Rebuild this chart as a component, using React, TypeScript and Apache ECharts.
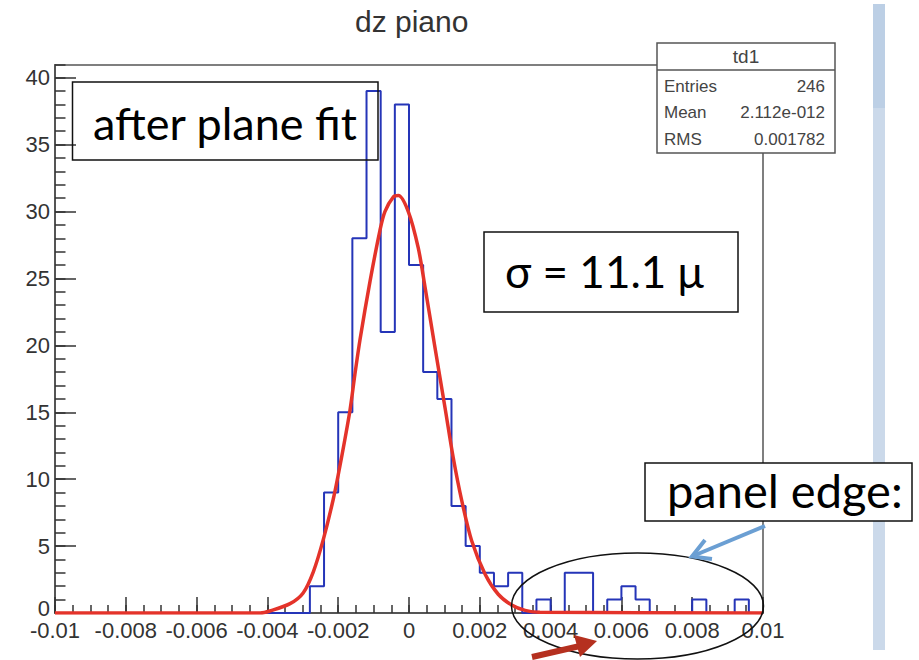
import React, { useEffect, useRef } from "react";
import * as echarts from "echarts";

// ---- data ----
const X_MIN = -0.01;
const X_MAX = 0.01;
const BIN_WIDTH = 0.0004; // 50 bins
const BIN_COUNTS = [
  0, 0, 0, 0, 0, 0, 0, 0, 0, 0,
  0, 0, 0, 0, 0, 0, 0, 0, 2, 9,
  15, 28, 39, 21, 38, 26, 18, 16, 8, 5,
  3, 2, 3, 0, 1, 0, 3, 3, 0, 1,
  2, 1, 0, 0, 0, 1, 0, 0, 1, 0,
];
// red fit curve
const FIT_X = [
  -0.01, -0.0042, -0.00393, -0.00336, -0.00299, -0.0027, -0.00242, -0.00214,
  -0.00195, -0.00167, -0.00153, -0.00138, -0.0011, -0.00082, -0.00068, -0.00044,
  -0.0003, -0.00002, 0.00026, 0.00045, 0.00073, 0.00102, 0.00125, 0.00149,
  0.00177, 0.00215, 0.00252, 0.0029, 0.00328, 0.0037, 0.01,
];
const FIT_Y = [
  0, 0, 0.15, 0.7, 1.5, 3.1, 5.5, 8.5,
  11.0, 15.1, 17.8, 20.5, 24.8, 28.6, 30.0, 31.1,
  31.2, 30.0, 27.3, 24.4, 19.9, 15.3, 11.6, 8.4,
  5.4, 2.9, 1.4, 0.6, 0.2, 0.05, 0,
];
const Y_MAX = 40.95;
const Y_TICK_STEP = 5;
const X_TICK_STEP = 0.002;
const STATS_LABELS = ["Entries", "Mean", "RMS"];
const STATS_VALUES = ["246", "2.112e-012", "0.001782"];

const AXIS_COLOR = "#555";
const LABEL_COLOR = "#333";
const ANN_FONT = "Lato, 'Open Sans', sans-serif";

export default function App() {
  const ref = useRef<HTMLDivElement>(null);

  useEffect(() => {
    if (!ref.current) return;
    const chart = echarts.init(ref.current, undefined, { renderer: "svg" });

    const histData: number[][] = BIN_COUNTS.map((c, i) => [
      Number((X_MIN + i * BIN_WIDTH).toFixed(6)),
      c,
    ]);
    histData.push([X_MAX, BIN_COUNTS[BIN_COUNTS.length - 1]]);
    const fitData = FIT_X.map((x, i) => [x, FIT_Y[i]]);

    const labelFont = { fontFamily: "Liberation Sans", fontSize: 22, color: LABEL_COLOR };

    const statsEls: any[] = [];
    statsEls.push({
      type: "rect",
      z: 100,
      shape: { x: 657, y: 43, width: 178, height: 110 },
      style: { fill: "#fff", stroke: AXIS_COLOR, lineWidth: 1.5 },
    });
    statsEls.push({
      type: "line",
      z: 101,
      shape: { x1: 657, y1: 70, x2: 835, y2: 70 },
      style: { stroke: AXIS_COLOR, lineWidth: 1.5 },
    });
    statsEls.push({
      type: "text",
      z: 101,
      x: 746,
      y: 56,
      style: {
        text: "td1",
        font: "19px 'Liberation Sans'",
        fill: "#444",
        align: "center",
        textAlign: "center",
        verticalAlign: "middle",
        textVerticalAlign: "middle",
      },
    });
    STATS_LABELS.forEach((lab, i) => {
      const yy = 86 + i * 26.7;
      statsEls.push({
        type: "text",
        z: 101,
        x: 664,
        y: yy,
        style: {
          text: lab,
          font: "17px 'Liberation Sans'",
          fill: "#444",
          align: "left",
          textAlign: "left",
          verticalAlign: "middle",
          textVerticalAlign: "middle",
        },
      });
      statsEls.push({
        type: "text",
        z: 101,
        x: 825,
        y: yy,
        style: {
          text: STATS_VALUES[i],
          font: "17px 'Liberation Sans'",
          fill: "#444",
          align: "right",
          textAlign: "right",
          verticalAlign: "middle",
          textVerticalAlign: "middle",
        },
      });
    });

    const annText = (text: string, x: number, y: number, size: number) => ({
      type: "text",
      z: 110,
      x,
      y,
      style: {
        text,
        font: `${size}px ${ANN_FONT}`,
        fill: "#000",
        align: "left",
        textAlign: "left",
        verticalAlign: "middle",
        textVerticalAlign: "middle",
      },
    });

    chart.setOption({
      animation: false,
      backgroundColor: "#fff",
      title: {
        text: "dz piano",
        left: 350,
        top: 1,
        textStyle: {
          fontFamily: "Liberation Sans",
          fontSize: 30,
          fontWeight: "normal",
          color: "#333",
        },
      },
      grid: {
        left: 55,
        right: 156,
        top: 65,
        bottom: 47,
        show: true,
        borderColor: AXIS_COLOR,
        borderWidth: 1.5,
        backgroundColor: "transparent",
      },
      xAxis: [
        {
          type: "value",
          position: "bottom",
          min: X_MIN,
          max: X_MAX,
          interval: X_TICK_STEP,
          splitLine: { show: false },
          axisLine: { show: true, onZero: false, lineStyle: { color: AXIS_COLOR, width: 2 } },
          axisTick: { show: true, inside: true, length: 16, lineStyle: { color: "#333", width: 1.5 } },
          axisLabel: { ...labelFont, lineHeight: 18, margin: 8, showMinLabel: true, showMaxLabel: true },
        },
        {
          type: "value",
          position: "bottom",
          min: X_MIN,
          max: X_MAX,
          interval: 0.0005,
          splitLine: { show: false },
          axisLine: { show: false, onZero: false },
          axisTick: { show: true, inside: true, length: 8, lineStyle: { color: "#333", width: 1.5 } },
          axisLabel: { show: false },
        },
      ],
      yAxis: [
        {
          type: "value",
          position: "left",
          min: 0,
          max: Y_MAX,
          interval: Y_TICK_STEP,
          splitLine: { show: false },
          axisLine: { show: true, onZero: false, lineStyle: { color: AXIS_COLOR, width: 2 } },
          axisTick: { show: true, inside: true, length: 21, lineStyle: { color: "#333", width: 1.5 } },
          axisLabel: {
            ...labelFont,
            lineHeight: 16,
            margin: 5,
            showMaxLabel: false,
            formatter: (v: number) => {
              if (Math.abs(v / Y_TICK_STEP - Math.round(v / Y_TICK_STEP)) > 1e-9) return "";
              return v === 0 ? "{z|0}" : String(v);
            },
            rich: {
              z: {
                fontFamily: "Liberation Sans",
                fontSize: 22,
                color: LABEL_COLOR,
                lineHeight: 16,
                padding: [0, 0, 9, 0],
              },
            },
          },
        },
        {
          type: "value",
          position: "left",
          min: 0,
          max: Y_MAX,
          interval: 1,
          splitLine: { show: false },
          axisLine: { show: false, onZero: false },
          axisTick: { show: true, inside: true, length: 10.5, lineStyle: { color: "#333", width: 1.5 } },
          axisLabel: { show: false },
        },
      ],
      series: [
        {
          type: "line",
          name: "td1",
          xAxisIndex: 0,
          yAxisIndex: 0,
          data: histData,
          step: "end",
          symbol: "none",
          lineStyle: { color: "#2535b8", width: 2 },
          z: 3,
        },
        {
          type: "line",
          name: "fit",
          xAxisIndex: 0,
          yAxisIndex: 0,
          data: fitData,
          smooth: 0.3,
          symbol: "none",
          lineStyle: { color: "#e4332a", width: 3.5 },
          z: 4,
        },
      ],
      graphic: {
        elements: [
          {
            type: "rect",
            z: 90,
            shape: { x: 873, y: 4, width: 12, height: 646 },
            style: { fill: "#cbd9ea" },
          },
          {
            type: "rect",
            z: 91,
            shape: { x: 873, y: 4, width: 12, height: 104 },
            style: { fill: "#bccfe5" },
          },
          ...statsEls,
          {
            type: "rect",
            z: 105,
            shape: { x: 72.5, y: 82, width: 305.5, height: 78 },
            style: { fill: "none", stroke: "#111", lineWidth: 1.5 },
          },
          annText("after plane fit", 93, 123, 45),
          {
            type: "rect",
            z: 105,
            shape: { x: 484, y: 232, width: 254, height: 80 },
            style: { fill: "#fff", stroke: "#111", lineWidth: 1.5 },
          },
          annText("σ = 11.1 μ", 505, 271, 44),
          {
            type: "rect",
            z: 105,
            shape: { x: 645, y: 463, width: 267, height: 58 },
            style: { fill: "#fff", stroke: "#111", lineWidth: 1.5 },
          },
          annText("panel edge:", 667, 490, 47),
          {
            type: "ellipse",
            z: 106,
            shape: { cx: 637.5, cy: 606, rx: 126, ry: 53 },
            style: { fill: "none", stroke: "#111", lineWidth: 1.5 },
          },
          {
            type: "line",
            z: 107,
            shape: { x1: 765, y1: 526, x2: 693, y2: 556 },
            style: { stroke: "#6b9fd3", lineWidth: 4 },
          },
          {
            type: "polyline",
            z: 107,
            shape: { points: [[705, 540], [692, 556.5], [712, 559]] },
            style: { stroke: "#6b9fd3", lineWidth: 4, fill: "none" },
          },
          {
            type: "line",
            z: 107,
            shape: { x1: 532, y1: 657, x2: 580, y2: 646 },
            style: { stroke: "#b5301f", lineWidth: 6 },
          },
          {
            type: "polygon",
            z: 107,
            shape: { points: [[597, 641], [574, 635], [580, 657]] },
            style: { fill: "#b5301f" },
          },
        ],
      },
    });

    return () => {
      chart.dispose();
    };
  }, []);

  return (
    <div
      ref={ref}
      style={{ position: "absolute", left: 0, top: 0, width: 919, height: 660, background: "#fff" }}
    />
  );
}
